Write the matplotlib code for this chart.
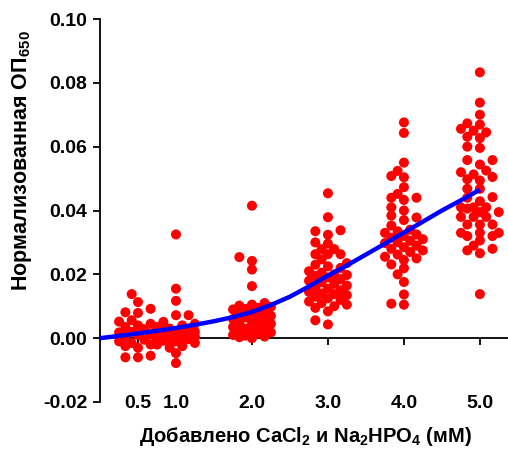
import numpy as np
import matplotlib
matplotlib.use("Agg")
import matplotlib.pyplot as plt

plt.rcParams['font.family'] = ['Liberation Sans', 'DejaVu Sans']
plt.rcParams['font.weight'] = 'bold'
plt.rcParams['mathtext.fontset'] = 'custom'
plt.rcParams['mathtext.bf'] = 'Liberation Sans:bold'
plt.rcParams['mathtext.rm'] = 'Liberation Sans:bold'

# added CaCl2 / Na2HPO4 concentration (mM)
doses = [0.5, 1.0, 2.0, 3.0, 4.0, 5.0]
tick_labels = ['0.5', '1.0', '2.0', '3.0', '4.0', '5.0']

od_05 = [0.0138, 0.0113, 0.0092, 0.0081, 0.0079, 0.0056, 0.0052, 0.0045, 0.004,
         0.0035, 0.003, 0.0028, 0.002, 0.0018, 0.0012, 0.001, 0.0005, 0.0,
         -0.0005, -0.001, -0.0015, -0.002, -0.0025, -0.003, -0.0055, -0.006, -0.006]
od_10 = [0.0325, 0.0155, 0.0117, 0.0072, 0.0072, 0.0051, 0.0045, 0.004, 0.0035,
         0.003, 0.003, 0.0025, 0.002, 0.002, 0.0018, 0.0015, 0.0012, 0.001, 0.001,
         0.0008, 0.0005, 0.0003, 0.0, 0.0, -0.0003, -0.0008, -0.001, -0.0015,
         -0.002, -0.0025, -0.003, -0.0047, -0.0078]
od_20 = [0.0415, 0.0254, 0.0242, 0.0215, 0.0163, 0.011, 0.0105, 0.0102, 0.0098,
         0.0095, 0.0092, 0.009, 0.0085, 0.008, 0.0075, 0.007, 0.0068, 0.0065,
         0.006, 0.0055, 0.005, 0.0048, 0.0045, 0.004, 0.0035, 0.003, 0.0028,
         0.0025, 0.002, 0.0018, 0.0015, 0.001, 0.0008, 0.0005, 0.0003, 0.0]
od_30 = [0.0454, 0.0379, 0.0338, 0.0335, 0.0324, 0.030, 0.0296, 0.0279, 0.0279,
         0.0263, 0.0263, 0.0263, 0.0247, 0.0235, 0.023, 0.0225, 0.022, 0.021,
         0.0205, 0.020, 0.0198, 0.0195, 0.019, 0.0185, 0.018, 0.0175, 0.017,
         0.0165, 0.016, 0.0155, 0.015, 0.0145, 0.014, 0.0138, 0.0135, 0.013,
         0.0125, 0.012, 0.0115, 0.011, 0.0105, 0.010, 0.0095, 0.0084, 0.0056, 0.0043]
od_40 = [0.0676, 0.0643, 0.055, 0.0524, 0.0508, 0.0504, 0.0473, 0.0452, 0.044,
         0.044, 0.0433, 0.041, 0.040, 0.0384, 0.0378, 0.037, 0.0353, 0.034,
         0.0335, 0.033, 0.0325, 0.032, 0.0315, 0.031, 0.0305, 0.030, 0.0298,
         0.029, 0.0285, 0.028, 0.0275, 0.027, 0.0262, 0.0255, 0.025, 0.0245,
         0.0231, 0.0219, 0.020, 0.0176, 0.0137, 0.0108, 0.0105]
od_50 = [0.0833, 0.0738, 0.070, 0.0673, 0.0669, 0.0656, 0.065, 0.0645, 0.0631,
         0.0627, 0.060, 0.0596, 0.0558, 0.0558, 0.0544, 0.0525, 0.052, 0.0513,
         0.0505, 0.0498, 0.0494, 0.0468, 0.0468, 0.0442, 0.044, 0.0429, 0.041,
         0.041, 0.041, 0.0406, 0.0395, 0.0395, 0.038, 0.038, 0.038, 0.0356,
         0.0356, 0.0356, 0.033, 0.033, 0.033, 0.032, 0.032, 0.0306, 0.029,
         0.028, 0.0275, 0.0266, 0.0138]
groups = [od_05, od_10, od_20, od_30, od_40, od_50]

# fitted curve
fit_x = [0.0, 0.25, 0.5, 0.75, 1.0, 1.25, 1.5, 1.75, 2.0, 2.25, 2.5, 2.75,
         3.0, 3.25, 3.5, 3.75, 4.0, 4.25, 4.5, 4.75, 5.0]
fit_y = [0.0, 0.0007, 0.0015, 0.0023, 0.0032, 0.0042, 0.0053, 0.0066, 0.0082,
         0.0104, 0.013, 0.0162, 0.0196, 0.0228, 0.0262, 0.0296, 0.0331, 0.0365,
         0.040, 0.0432, 0.0465]

fig = plt.figure(figsize=(5.08, 4.49), dpi=100)
W, H = 508, 449
ax = fig.add_axes([100 / W, 1 - 402 / H, 1 - 100 / W, (402 - 19) / H])
ax.set_xlim(0, 5.37)
ax.set_ylim(-0.02, 0.10)

# pixel scales for the prism-like column layout
px_x = (W - 100) / 5.37
px_y = (402 - 19) / 0.12
step = 6.3
mind = 8.0
ncol = 3


def columns(ys):
    ys = sorted(ys)
    placed = []
    xs = []
    order = [0]
    for i in range(1, ncol + 1):
        order += [-i, i]
    for y in ys:
        best, best_d = 0, -1
        for k in order:
            dmin = 1e9
            for (pk, py) in placed:
                dx = (k - pk) * step
                dy = (y - py) * px_y
                dmin = min(dmin, np.hypot(dx, dy))
            if dmin >= mind:
                best = k
                break
            if dmin > best_d:
                best, best_d = k, dmin
        placed.append((best, y))
        xs.append(best * step)
    return np.array(xs), np.array(ys)


for d, ys in zip(doses, groups):
    offs, yy = columns(ys)
    ax.scatter(d + offs / px_x, yy, s=52, color='#ff0000', edgecolors='none', zorder=3)

ax.plot(fit_x, fit_y, color='#0000ff', lw=3.2, zorder=4, solid_capstyle='butt')

ax.spines['top'].set_visible(False)
ax.spines['right'].set_visible(False)
ax.spines['bottom'].set_position(('data', 0))
ax.spines['bottom'].set_zorder(2)
for s in ['left', 'bottom']:
    ax.spines[s].set_linewidth(1.3)

ax.set_yticks([-0.02, 0.0, 0.02, 0.04, 0.06, 0.08, 0.10])
ax.set_yticklabels(['-0.02', '0.00', '0.02', '0.04', '0.06', '0.08', '0.10'])
ax.set_xticks(doses)
ax.set_xticklabels(tick_labels)
ax.tick_params(axis='y', direction='out', length=5, width=1.3, labelsize=14, pad=4)
ax.tick_params(axis='x', direction='out', length=5, width=1.3, labelsize=14, pad=36)

fig.text(22 / W, 1 - 161 / H, 'Нормализованная ОП$_{\\mathbf{650}}$', rotation=90,
         ha='center', va='center', fontsize=15.5, fontweight='bold')
fig.text(305 / W, 1 - 437 / H, 'Добавлено CaCl$_{\\mathbf{2}}$ и Na$_{\\mathbf{2}}$HPO$_{\\mathbf{4}}$ (мМ)',
         ha='center', va='center', fontsize=14.5, fontweight='bold')

fig.savefig('out.png', dpi=100)
